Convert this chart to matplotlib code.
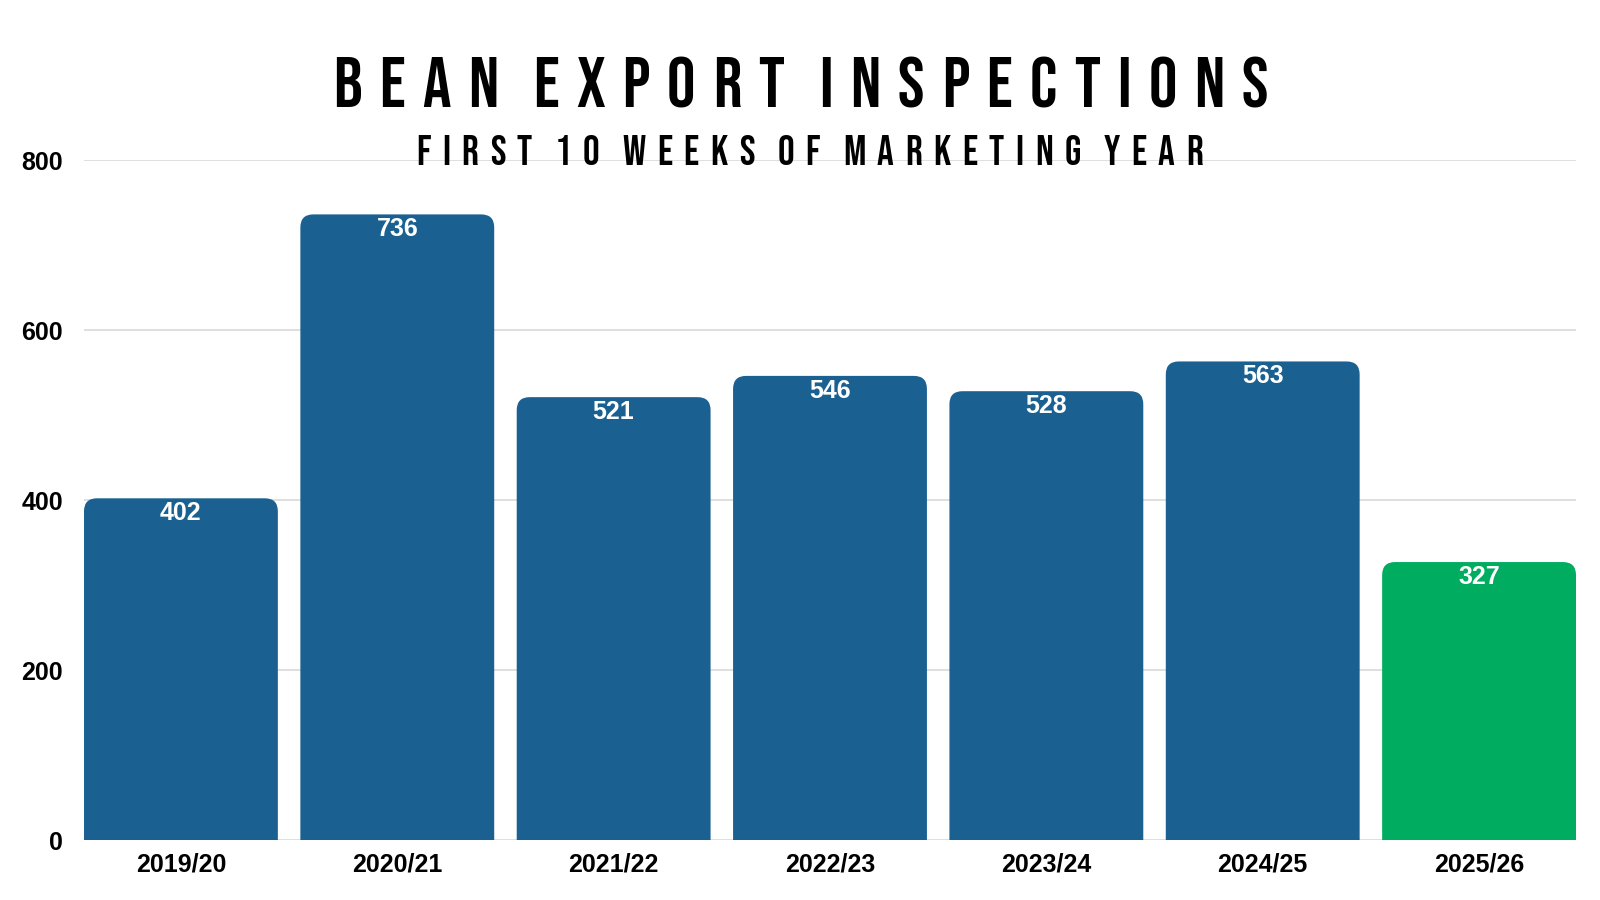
import matplotlib
matplotlib.use("Agg")
import matplotlib.pyplot as plt
from matplotlib import font_manager as fm
from matplotlib.patches import FancyBboxPatch

# data
years = ["2019/20", "2020/21", "2021/22", "2022/23", "2023/24", "2024/25", "2025/26"]
inspections = [402, 736, 521, 546, 528, 563, 327]
bar_colors = ["#1a6192"] * 6 + ["#00ac5f"]
y_ticks = [0, 200, 400, 600, 800]

title = "BEAN EXPORT INSPECTIONS"
subtitle = "FIRST 10 WEEKS OF MARKETING YEAR"

# pick a condensed display face for the headings
have = {f.name for f in fm.fontManager.ttflist}
head_font = [f for f in ["Bebas Neue", "Oswald", "IBM Plex Sans Condensed"] if f in have] + ["DejaVu Sans"]
body_font = ["Liberation Sans", "DejaVu Sans"]

W, H = 1600, 900
fig = plt.figure(figsize=(16, 9), dpi=100)
fig.patch.set_facecolor("white")
ax = fig.add_axes([84 / W, 60 / H, 1492 / W, 680 / H])

bw = 0.896
x = list(range(len(years)))
bars = ax.bar(x, inspections, width=bw, color=bar_colors)
ax.set_xlim(-bw / 2, len(years) - 1 + bw / 2)
ax.set_ylim(0, 800)

# swap the square bars for ones with rounded top corners
xpp = (ax.get_xlim()[1] - ax.get_xlim()[0]) / 1492
ypp = 800 / 680
r_px = 13
for b, c in zip(bars, bar_colors):
    bx, bwid, bh = b.get_x(), b.get_width(), b.get_height()
    b.set_visible(False)
    p = FancyBboxPatch((bx, -40), bwid, bh + 40,
                       boxstyle=f"round,pad=0,rounding_size={r_px * xpp}",
                       mutation_aspect=ypp / xpp, facecolor=c, edgecolor="none",
                       zorder=2)
    ax.add_patch(p)

for xi, v in zip(x, inspections):
    ax.annotate(str(v), (xi, v), xytext=(0, -15), textcoords="offset pixels",
                ha="center", va="center", color="white", fontsize=18,
                fontweight="bold", family=body_font)

ax.set_yticks(y_ticks)
ax.set_xticks(x)
ax.set_xticklabels(years)
ax.grid(axis="y", color="#d9d9d9", lw=1.2)
ax.set_axisbelow(True)
for s in ax.spines.values():
    s.set_visible(False)
ax.tick_params(axis="y", length=0, pad=15)
ax.tick_params(axis="x", length=0, pad=9)
for lab in ax.get_xticklabels() + ax.get_yticklabels():
    lab.set_fontsize(18)
    lab.set_fontweight("bold")
    lab.set_family(body_font)


def tracked(text, x0, x1, cy, **kw):
    # lay letters out one by one to get the wide tracking of the original
    fig.canvas.draw()
    rend = fig.canvas.get_renderer()
    widths = []
    for ch in text:
        if ch == " ":
            widths.append(None)
            continue
        t = fig.text(0, 0, ch, **kw)
        widths.append(t.get_window_extent(rend).width)
        t.remove()
    letters = [w for w in widths if w is not None]
    gaps = len(letters) - 1 + widths.count(None)
    track = (x1 - x0 - sum(letters)) / gaps
    pos = x0
    for ch, w in zip(text, widths):
        if w is None:
            pos += track
            continue
        fig.text(pos / W, 1 - cy / H, ch, ha="left", va="center_baseline", **kw)
        pos += w + track


tracked(title, 333, 1268, 82, fontsize=51, family=head_font, color="black")
tracked(subtitle, 416, 1203, 150, fontsize=30, family=head_font, color="black")

fig.savefig("out.png", dpi=100, facecolor="white")
